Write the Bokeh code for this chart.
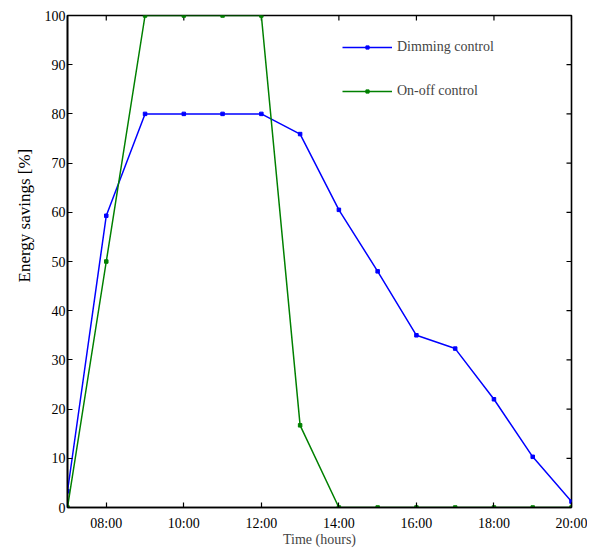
import math
from bokeh.plotting import figure
from bokeh.models import (Range1d, FixedTicker, LinearAxis, Legend, LegendItem, Title)
from bokeh.embed import file_html
from bokeh.resources import INLINE

# ---- data ----
hours = [7, 8, 9, 10, 11, 12, 13, 14, 15, 16, 17, 18, 19, 20]
dimming = [3.3, 59.3, 80, 80, 80, 80, 75.9, 60.5, 48.0, 35.0, 32.3, 22.0, 10.3, 1.2]
onoff = [0, 50, 100, 100, 100, 100, 16.7, 0, 0, 0, 0, 0, 0, 0]
x_ticks = [8, 10, 12, 14, 16, 18, 20]
x_tick_labels = ["08:00", "10:00", "12:00", "14:00", "16:00", "18:00", "20:00"]
y_ticks = [0, 10, 20, 30, 40, 50, 60, 70, 80, 90, 100]
series_names = ["Dimming control", "On-off control"]
x_title = "Time (hours)"
y_title = "Energy savings [%]"

FONT = "Liberation Serif"
BLUE = "#0000ff"
GREEN = "#008000"

p = figure(width=587, height=549, output_backend="svg", toolbar_location=None,
           x_range=Range1d(7, 20), y_range=Range1d(0, 100),
           x_axis_location=None, y_axis_location=None,
           min_border_left=67, min_border_right=16, min_border_top=15, min_border_bottom=42)
p.grid.visible = False
p.outline_line_color = "black"
p.outline_line_width = 1.6
p.background_fill_color = "white"
p.border_fill_color = "white"

xt = FixedTicker(ticks=x_ticks)
yt = FixedTicker(ticks=y_ticks)
overrides = {t: l for t, l in zip(x_ticks, x_tick_labels)}

def style(ax):
    ax.axis_line_color = "black"
    ax.axis_line_width = 1.6
    ax.major_tick_line_color = "black"
    ax.major_tick_line_width = 1.2
    ax.major_tick_in = 5
    ax.major_tick_out = 0
    ax.minor_tick_line_color = None
    ax.major_label_text_font = FONT
    ax.major_label_text_font_size = "14px"
    ax.major_label_text_color = "black"

bottom = LinearAxis(ticker=xt, major_label_overrides=overrides)
style(bottom)
bottom.major_label_standoff = 8
bottom.axis_label = x_title
bottom.axis_label_text_font = FONT
bottom.axis_label_text_font_size = "14px"
bottom.axis_label_text_font_style = "normal"
bottom.axis_label_standoff = -2
p.add_layout(bottom, "below")

left = LinearAxis(ticker=yt)
style(left)
left.major_label_standoff = 2
p.add_layout(left, "left")

ytitle = Title(text=y_title, align="left", offset=225, standoff=16,
               text_font=FONT, text_font_size="17px", text_font_style="normal",
               text_color="black")
p.add_layout(ytitle, "left")

# inward ticks on the top and right frame edges
p.ray(x=x_ticks, y=[100] * len(x_ticks), length=5, length_units="screen",
      angle=-math.pi / 2, line_color="black", line_width=1.2)
p.ray(x=[20] * len(y_ticks), y=y_ticks, length=5, length_units="screen",
      angle=math.pi, line_color="black", line_width=1.2)

l1 = p.line(hours, dimming, line_color=BLUE, line_width=1.5)
m1 = p.scatter(hours, dimming, marker="square", size=3.5, fill_color=BLUE, line_color=BLUE)
l2 = p.line(hours, onoff, line_color=GREEN, line_width=1.5)
m2 = p.scatter(hours, onoff, marker="square", size=3.5, fill_color=GREEN, line_color=GREEN)

legend = Legend(items=[LegendItem(label=series_names[0], renderers=[l1, m1]),
                       LegendItem(label=series_names[1], renderers=[l2, m2])],
                location=(275, 406))
legend.border_line_color = None
legend.background_fill_alpha = 0
legend.padding = 0
legend.margin = 0
legend.glyph_width = 50
legend.glyph_height = 8
legend.label_height = 20
legend.spacing = 24
legend.label_standoff = 5
legend.label_text_font = FONT
legend.label_text_font_size = "14px"
legend.label_text_baseline = "middle"
p.add_layout(legend, "center")

open("out.html", "w").write(file_html(p, INLINE))
